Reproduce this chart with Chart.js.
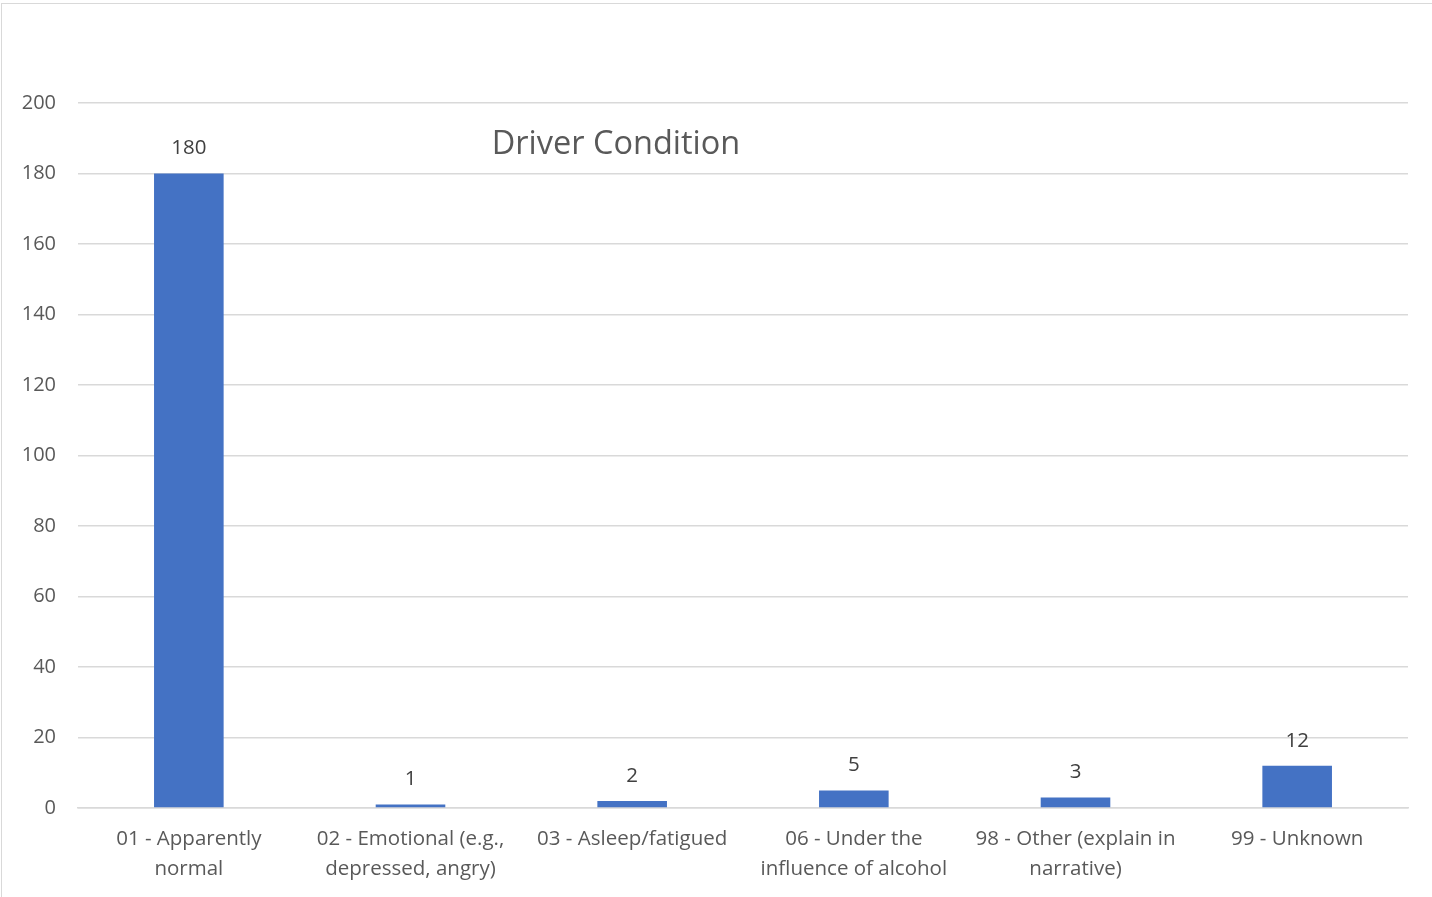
<!DOCTYPE html>
<html>
<head>
<meta charset="utf-8">
<script src="https://cdn.jsdelivr.net/npm/chart.js@4"></script>
<style>
  html, body { margin: 0; padding: 0; background: #fff; overflow: hidden; }
  #wrap { position: relative; width: 1432px; height: 897px; }
  #frame { position: absolute; left: 1px; top: 3px; width: 1500px; height: 1000px; border: 1.5px solid #d9d9d9; box-sizing: border-box; }
  #title { position: absolute; left: 0; top: 119px; width: 1232px; text-align: center; font-family: "Open Sans", sans-serif; font-size: 32.5px; color: #595959; }
  canvas { position: absolute; left: 0; top: 0; }
</style>
</head>
<body>
<div id="wrap">
  <div id="frame"></div>
  <canvas id="barChart" width="1432" height="897"></canvas>
  <div id="title">Driver Condition</div>
</div>
<script>
// categories (wrapped as in the original)
const categories = [
  ['01 - Apparently', 'normal'],
  ['02 - Emotional (e.g.,', 'depressed, angry)'],
  ['03 - Asleep/fatigued'],
  ['06 - Under the', 'influence of alcohol'],
  ['98 - Other (explain in', 'narrative)'],
  ['99 - Unknown']
];
const counts = [180, 1, 2, 5, 3, 12];
const yTicks = [0, 20, 40, 60, 80, 100, 120, 140, 160, 180, 200];

const fontFamily = '"Open Sans", sans-serif';

// draws the value above each bar
const valueLabels = {
  id: 'valueLabels',
  afterDatasetsDraw(chart) {
    const ctx = chart.ctx;
    const meta = chart.getDatasetMeta(0);
    ctx.save();
    ctx.font = '20.5px ' + fontFamily;
    ctx.fillStyle = '#404040';
    ctx.textAlign = 'center';
    ctx.textBaseline = 'middle';
    meta.data.forEach((bar, i) => {
      ctx.fillText(counts[i], bar.x, bar.y - 25);
    });
    ctx.restore();
  }
};

const barCanvas = document.getElementById('barChart');

const barChart = new Chart(barCanvas, {
  type: 'bar',
  data: {
    labels: categories,
    datasets: [{
      data: counts,
      backgroundColor: '#4472C4',
      borderWidth: 0,
      barPercentage: 0.314,
      categoryPercentage: 1
    }]
  },
  options: {
    responsive: false,
    animation: false,
    layout: { padding: { top: 103, right: 24, bottom: 0, left: 0 } },
    plugins: {
      legend: { display: false },
      tooltip: { enabled: false }
    },
    scales: {
      x: {
        grid: { display: false, drawTicks: false },
        border: { color: '#d9d9d9', width: 1.5 },
        ticks: {
          color: '#595959',
          font: { family: fontFamily, size: 20.5, lineHeight: 1.42 },
          padding: 17,
          maxRotation: 0,
          autoSkip: false
        },
        afterFit(scale) { scale.height = 89; }
      },
      y: {
        min: 0,
        max: 200,
        afterBuildTicks(scale) { scale.ticks = yTicks.map(v => ({ value: v })); },
        grid: { color: '#d9d9d9', lineWidth: 1.5, drawTicks: false },
        border: { display: false },
        ticks: {
          color: '#595959',
          font: { family: fontFamily, size: 20 },
          padding: 22
        },
        afterFit(scale) { scale.width = 78; }
      }
    }
  },
  plugins: [valueLabels]
});
</script>
</body>
</html>
